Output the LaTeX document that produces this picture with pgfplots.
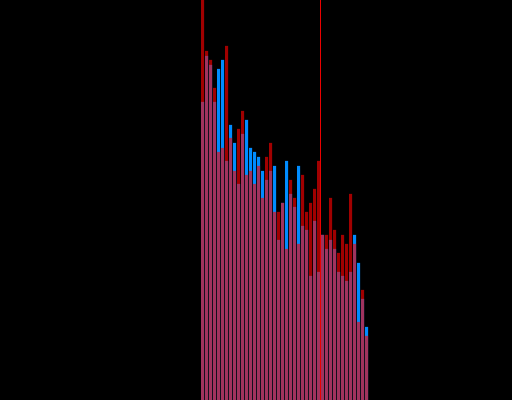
\documentclass[border=0pt]{standalone}
\usepackage{pgfplots}
\pgfplotsset{compat=1.18}
\definecolor{histblue}{RGB}{0,140,255}
\definecolor{histred}{RGB}{255,0,0}
\definecolor{meanline}{RGB}{235,0,0}

% bar heights, one row per bin
\pgfplotstableread{
bin blue red
0 298 420
1 344 349
2 335 340
3 298 312
4 331 248
5 340 252
6 239 354
7 275 262
8 257 229
9 216 271
10 266 289
11 280 225
12 252 229
13 248 216
14 243 234
15 229 202
16 220 243
17 229 257
18 234 188
19 160 188
20 197 197
21 239 151
22 206 220
23 193 202
24 234 156
25 174 225
26 170 188
27 124 197
28 179 211
29 128 239
30 165 165
31 151 165
32 160 202
33 151 170
34 128 147
35 124 165
36 119 156
37 128 206
38 165 156
39 137 78
40 101 110
41 73 64
}\bins

\begin{document}
\begin{tikzpicture}
\begin{axis}[
    name=ax,
    scale only axis,
    width=12.8cm, height=10cm,
    xmin=-50.625, xmax=77.375,
    ymin=0, ymax=400,
    axis lines=none,
    ticks=none,
]
\fill[black] (rel axis cs:0,0) rectangle (rel axis cs:1,1);
\addplot[ybar, bar width=0.75, bar shift=0, fill=histblue, draw=none]
    table[x=bin, y=blue] {\bins};
\addplot[ybar, bar width=0.75, bar shift=0, fill=histred, fill opacity=0.63, draw=none]
    table[x=bin, y=red] {\bins};
\addplot[meanline, line width=0.75pt] coordinates {(29.5,0) (29.5,400)};
\end{axis}
\pgfresetboundingbox
\path (ax.south west) rectangle (ax.north east);
\end{tikzpicture}
\end{document}
